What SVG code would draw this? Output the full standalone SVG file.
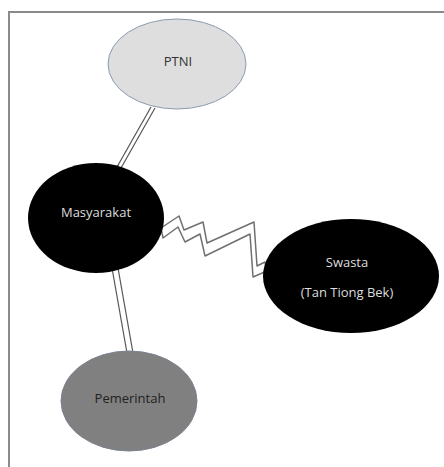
<svg xmlns="http://www.w3.org/2000/svg" width="444" height="467" viewBox="0 0 444 467">
<style>
.lbl{font-family:"Open Sans","Liberation Sans",sans-serif;font-size:13px;text-anchor:middle;dominant-baseline:central}
.dbl{stroke:#555;stroke-width:1.2;fill:none}
</style>
<rect width="444" height="467" fill="#fff"/>
<g id="frame">
<path d="M9 467 V12 H444" fill="none" stroke="#8a8a8a" stroke-width="2"/>
</g>
<g id="connectors">
<line class="dbl" x1="151" y1="107" x2="117" y2="167"/>
<line class="dbl" x1="155" y1="108" x2="121" y2="168"/>
<line class="dbl" x1="112" y1="268" x2="127" y2="353"/>
<line class="dbl" x1="118" y1="268" x2="133" y2="353"/>
<path d="M161 228 L179 216 L184 230 L203 222 L207 243 L254 222 L257 266 L265 262 L267 271 L253 277 L250 234 L205 256 L200 234 L185 242 L178 227 L163 238 Z" fill="#fff" stroke="#707070" stroke-width="1.5" stroke-linejoin="round"/>
</g>
<g id="ptni">
<ellipse cx="177" cy="64" rx="69" ry="45" fill="#dedede" stroke="#8c9bb0" stroke-width="1"/>
<text class="lbl" x="178" y="61" fill="#333">PTNI</text>
</g>
<g id="masyarakat">
<ellipse cx="96" cy="218" rx="68" ry="55" fill="#000"/>
<text class="lbl" x="96" y="212" fill="#ddd">Masyarakat</text>
</g>
<g id="swasta">
<ellipse cx="351" cy="276" rx="88" ry="57" fill="#000"/>
<text class="lbl" x="347" y="262" fill="#ddd">Swasta</text>
<text class="lbl" x="347" y="292" fill="#ddd">(Tan Tiong Bek)</text>
</g>
<g id="pemerintah">
<ellipse cx="129" cy="401" rx="68" ry="50" fill="#808080" stroke="#7a8290" stroke-width="1"/>
<text class="lbl" x="130" y="398" fill="#222">Pemerintah</text>
</g>
</svg>
